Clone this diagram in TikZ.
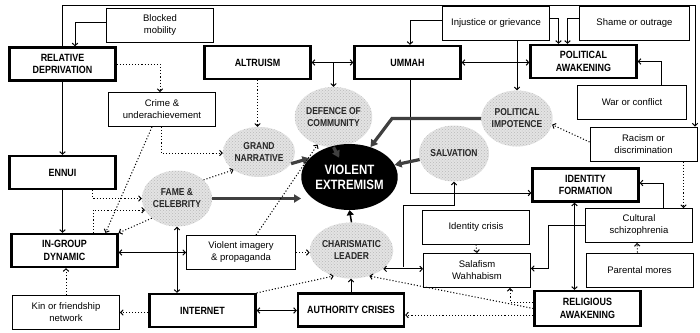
\documentclass[tikz,border=0pt]{standalone}
\usepackage{fontspec}
\setmainfont{Liberation Sans}[BoldFeatures={FakeStretch=0.85}]
\usetikzlibrary{arrows.meta,calc,shapes.geometric,patterns}
\tikzset{
  capbox/.style={draw, line width=2.2pt, minimum width=106pt, minimum height=33pt, inner sep=0pt, align=center, font=\bfseries\fontsize{10.5}{12.5}\selectfont},
  thinbox/.style={draw, line width=0.9pt, minimum width=107pt, minimum height=34pt, inner sep=0pt, align=center, font=\fontsize{9.5}{12}\selectfont},
  cloud/.style={ellipse, inner sep=0pt, fill=gray!22, postaction={pattern=crosshatch dots, pattern color=gray!55}, align=center, text=black!85, font=\bfseries\fontsize{10}{12}\selectfont},
  vebox/.style={ellipse, fill=black, text=white, inner sep=0pt, minimum width=78pt, minimum height=66pt, align=center, font=\bfseries\fontsize{13.5}{15}\selectfont},
  ar/.style={line width=1pt, -{Straight Barb[length=2.6pt,width=5.5pt]}},
  arr2/.style={line width=1pt, {Straight Barb[length=2.6pt,width=5.5pt]}-{Straight Barb[length=2.6pt,width=5.5pt]}},
  dt/.style={line width=1.1pt, dash pattern=on 1.1pt off 2pt},
  big/.style={line width=3.2pt, draw=gray!50!black, -{Triangle[length=7pt,width=8pt]}},
}
\begin{document}
\begin{tikzpicture}[x=1pt,y=-1pt]
\useasboundingbox (0,0) rectangle (700,332);
% thick boxes
\node[capbox] (rd) at (62.5,64) {RELATIVE\\DEPRIVATION};
\node[capbox] (alt) at (257.5,62.5) {ALTRUISM};
\node[capbox] (umm) at (407.5,62.5) {UMMAH};
\node[capbox] (pa) at (583.5,61.5) {POLITICAL\\AWAKENING};
\node[capbox] (ennui) at (62.5,172.5) {ENNUI};
\node[capbox] (igd) at (64.5,250.5) {IN-GROUP\\DYNAMIC};
\node[capbox] (net) at (202.5,310.5) {INTERNET};
\node[capbox] (ac) at (351,310) {AUTHORITY CRISES};
\node[capbox, minimum height=35pt] (ra) at (587.5,308.5) {RELIGIOUS\\AWAKENING};
\node[capbox] (if) at (585.5,185) {IDENTITY\\FORMATION};
% thin boxes
\node[thinbox] (bm) at (160,25) {Blocked\\mobility};
\node[thinbox] (crime) at (162,109.5) {Crime \&\\underachievement};
\node[thinbox] (inj) at (496,23.5) {Injustice or grievance};
\node[thinbox, minimum width=110pt] (shame) at (634.5,23.5) {Shame or outrage};
\node[thinbox, minimum width=109pt] (war) at (632,102.5) {War or conflict};
\node[thinbox] (racism) at (643.5,144) {Racism or\\discrimination};
\node[thinbox] (cult) at (639,225.5) {Cultural\\schizophrenia};
\node[thinbox] (par) at (639.5,270) {Parental mores};
\node[thinbox] (ic) at (476,227) {Identity crisis};
\node[thinbox] (sal) at (477,270.5) {Salafism\\Wahhabism};
\node[thinbox, minimum width=109pt] (vi) at (241,252.5) {Violent imagery\\\& propaganda};
\node[thinbox] (kin) at (66,312.5) {Kin or friendship\\network};
% clouds
\node[cloud, minimum width=72pt, minimum height=50pt] (gn) at (259,152) {GRAND\\NARRATIVE};
\node[cloud, minimum width=72pt, minimum height=60pt] (def) at (333.5,117) {DEFENCE OF\\COMMUNITY};
\node[cloud, minimum width=70pt, minimum height=56pt] (pi) at (517,118.5) {POLITICAL\\IMPOTENCE};
\node[cloud, minimum width=70pt, minimum height=56pt] (salv) at (454,153.5) {SALVATION};
\node[cloud, minimum width=70pt, minimum height=56pt] (fame) at (177,198.5) {FAME \&\\CELEBRITY};
\node[cloud, minimum width=72pt, minimum height=56pt] (cl) at (351.5,250.5) {CHARISMATIC\\LEADER};
\node[vebox] (ve) at (349.5,177) {VIOLENT\\EXTREMISM};
% helper coordinates
\coordinate (tr) at (695,5);
\coordinate (pib) at (392,118);
\coordinate (b1) at (403,267.2);
\coordinate (b2) at (454,205);
% connectors
\draw[ar] (rd.north) |- (tr) -- (tr |- racism.north);
\draw[ar] ([yshift=3]bm.west) -| ([xshift=12.5]rd.north);
\draw[dt,ar] (rd.east) -| ([xshift=-2]crime.north);
\draw[ar] (rd.south) -- (ennui.north);
\draw[ar] (ennui.south) -- (ennui.south |- igd.north);
\draw[dt,ar] ([xshift=-1]crime.south) |- ([yshift=-1]gn.west);
\draw[dt,ar] ([xshift=-10]crime.south) -- ([xshift=41]igd.north);
\draw[dt,ar] ([xshift=30]ennui.south) |- (fame.west);
\draw[dt,ar] ([xshift=28.5]igd.north) |- (fame.200);
\draw[dt,ar] (fame.218) -- (igd.north east);
\draw[dt,ar] (fame.35) -- (gn.215);
\draw[big] (fame.east) -- (fame.east -| ve.west);
\draw[big] (gn.-20) -- (ve.155);
\draw[big] (def.south) -- ($(def.south)!12pt!(ve.center)$);
\draw[arr2] (alt.east) -- (umm.west);
\draw[ar] (alt.east -| def.north) -- (def.north);
\draw[dt,ar] (alt.south) -- (alt.south |- gn.north);
\draw[dt,ar] ([xshift=15]vi.north) -- (def.240);
\draw[ar] ([xshift=2.5]umm.south) |- ([yshift=-8]if.west);
\draw[big] (pi.west) -- (pi.west -| pib) -- (ve.55);
\draw[big] (salv.190) -- (ve.15);
\draw[ar] ([yshift=3]inj.west) -| ([xshift=2.5]umm.north);
\draw[ar] (pi.north |- inj.south) -- (pi.north);
\draw[ar] ([yshift=5]inj.east) -| ([xshift=-25]pa.north);
\draw[ar] ([yshift=5]shame.west) -| ([xshift=-16]pa.north);
\draw[arr2] (umm.east) -- (umm.east -| pa.west);
\draw[ar] ([xshift=29]war.north) |- (pa.east);
\draw[dt,ar] ([yshift=2]racism.west) -- (pi.-10);
\draw[dt,ar] ([xshift=40]racism.south) -- ([xshift=44.5]cult.north);
\draw[ar] ([xshift=24]cult.north) |- ([yshift=2]if.east);
\draw[ar] (cult.west) -- ++(-37,0) |- ([yshift=2]sal.east);
\draw[dt,ar] ([xshift=-2]par.north) -- ([xshift=-2]cult.south);
\draw[arr2] ([xshift=-11]if.south) -- ([xshift=-13]ra.north);
\draw[dt,ar] (ic.south) -- (sal.north);
\draw[arr2] (cl.-30) -- (cl.-30 -| sal.west);
\draw[ar] (b1) |- (b2) -- (b2 |- salv.south);
\draw[line width=1.5pt, -{Triangle[length=5pt,width=7pt]}] (cl.north) -- (ve.south);
\draw[dt,ar] (vi.east) -- (cl.west |- vi.east);
\draw[arr2] (igd.east |- vi.west) -- (vi.west);
\draw[arr2] (fame.south) -- (fame.south |- net.north);
\draw[dt,ar] (net.west |- kin.east) -- (kin.east);
\draw[dt,ar] (kin.north) -- (kin.north |- igd.south);
\draw[arr2] (net.east) -- (net.east -| ac.west);
\draw[dt,ar] (net.north east) -- (cl.235);
\draw[ar] (ac.north) -- (ac.north |- cl.south);
\draw[dt,ar] (ra.west) -- (cl.-55);
\draw[dt,ar] ([yshift=6.5]ra.west) -| ([xshift=33]sal.south);
\draw[dt,ar] ([yshift=-6.5]ra.west) -- ([yshift=-5]ac.east);
\end{tikzpicture}
\end{document}
